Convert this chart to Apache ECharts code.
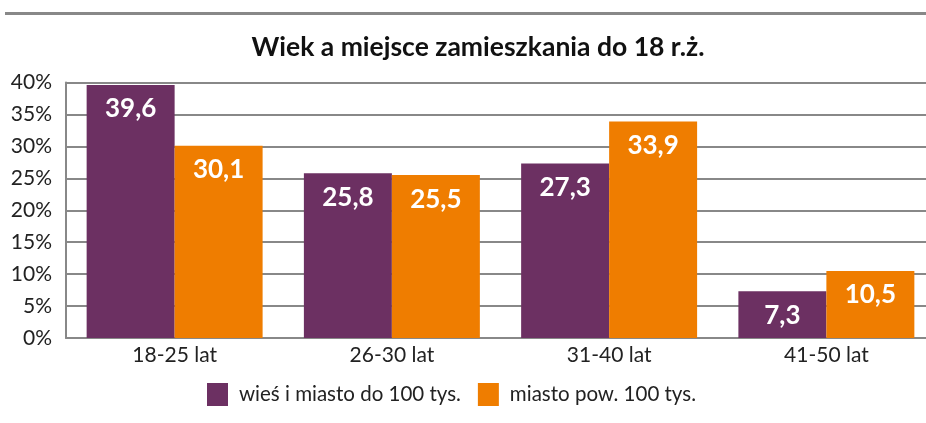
<!DOCTYPE html>
<html>
<head>
<meta charset="utf-8">
<script src="https://cdn.jsdelivr.net/npm/echarts@6/dist/echarts.min.js"></script>
<style>
  html, body { margin: 0; padding: 0; background: #fff; }
  #main { width: 926px; height: 423px; }
</style>
</head>
<body>
<div id="main"></div>
<script>
var categories = ['18-25 lat', '26-30 lat', '31-40 lat', '41-50 lat'];
var seriesNames = ['wieś i miasto do 100 tys.', 'miasto pow. 100 tys.'];
var wiesValues = [39.6, 25.8, 27.3, 7.3];
var miastoValues = [30.1, 25.5, 33.9, 10.5];

var myChart = echarts.init(document.getElementById('main'));
var font = 'Lato, "Noto Sans", sans-serif';

function barLabel() {
    return {
        show: true,
        position: 'insideTop',
        distance: 11,
        color: '#fff',
        fontFamily: font,
        fontWeight: 'bold',
        fontSize: 26,
        formatter: function (p) {
            return String(p.value).replace('.', ',');
        }
    };
}

var option = {
    animation: false,
    textStyle: { fontFamily: font },
    graphic: [{
        type: 'rect',
        shape: { x: 5, y: 12, width: 921, height: 3 },
        style: { fill: '#888' }
    }],
    title: {
        text: 'Wiek a miejsce zamieszkania do 18 r.ż.',
        left: 473,
        textAlign: 'center',
        top: 29,
        textStyle: { fontFamily: font, fontWeight: 'bold', fontSize: 26.5, color: '#111' }
    },
    legend: {
        data: seriesNames,
        left: 202,
        top: 378,
        itemWidth: 21,
        itemHeight: 23,
        itemGap: 17,
        icon: 'rect',
        textStyle: { fontFamily: font, fontSize: 20.5, color: '#222', padding: [0, 0, 0, 6] }
    },
    grid: {
        left: 66, width: 869, top: 82.5, bottom: 85,
        containLabel: false,
        outerBoundsMode: 'none'
    },
    xAxis: {
        type: 'category',
        data: categories,
        axisLine: { show: true, lineStyle: { color: '#888', width: 2 } },
        axisTick: { show: false },
        axisLabel: { fontFamily: font, fontSize: 21, color: '#222', margin: 7 }
    },
    yAxis: {
        type: 'value',
        min: 0,
        max: 40,
        interval: 5,
        axisLine: { show: true, lineStyle: { color: '#888', width: 2 } },
        axisTick: { show: false },
        splitLine: { show: true, lineStyle: { color: '#888', width: 2 } },
        axisLabel: {
            fontFamily: font, fontSize: 21, color: '#222', margin: 14,
            formatter: '{value}%'
        }
    },
    series: [
        {
            name: seriesNames[0],
            type: 'bar',
            data: wiesValues,
            barGap: '0%',
            barCategoryGap: '19%',
            itemStyle: { color: '#6c3062' },
            label: barLabel()
        },
        {
            name: seriesNames[1],
            type: 'bar',
            data: miastoValues,
            barGap: '0%',
            barCategoryGap: '19%',
            itemStyle: { color: '#ef7d00' },
            label: barLabel()
        }
    ]
};

myChart.setOption(option);
</script>
</body>
</html>
